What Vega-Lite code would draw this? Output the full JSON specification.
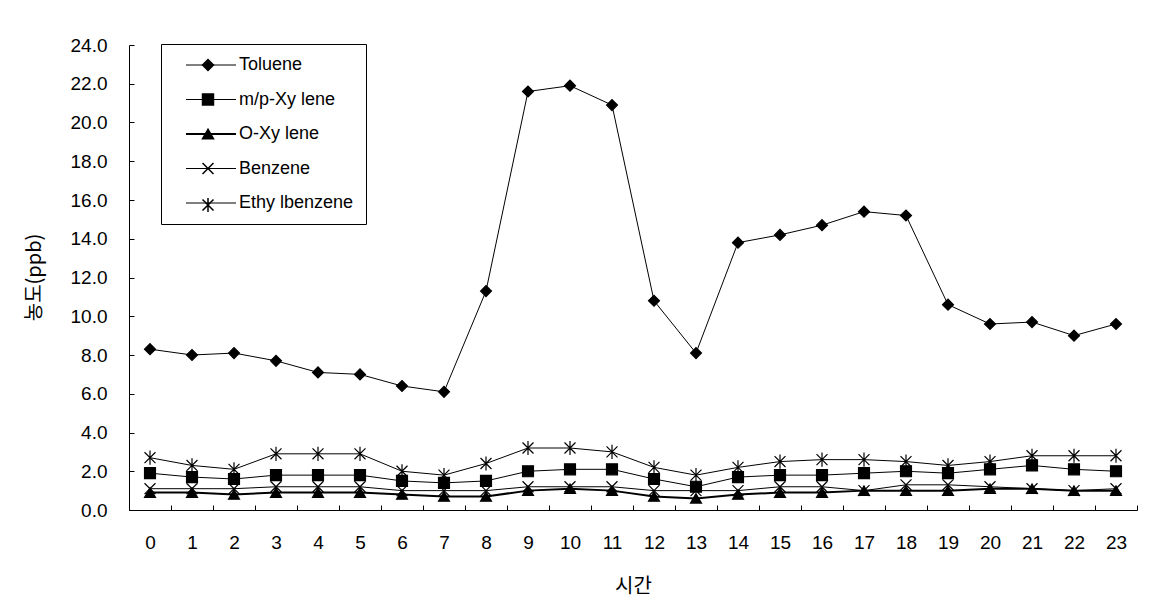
{
  "$schema": "https://vega.github.io/schema/vega-lite/v6.json",
  "width": 1008,
  "height": 465,
  "autosize": {"type": "none"},
  "padding": {"left": 129, "top": 45, "right": 23, "bottom": 96},
  "background": "white",
  "config": {
    "view": {"stroke": null},
    "axis": {
      "domainColor": "black", "tickColor": "black", "labelColor": "black", "titleColor": "black",
      "labelFont": "Liberation Sans", "labelFontSize": 19,
      "titleFont": "Noto Sans CJK KR", "titleFontSize": 20, "titleFontWeight": "normal",
      "grid": false, "domainWidth": 1, "tickWidth": 1
    },
    "legend": {"labelFont": "Liberation Sans", "labelFontSize": 18, "labelColor": "black"}
  },
  "data": {"values": [
    {"hour": 0, "series": "Toluene", "value": 8.3}, {"hour": 1, "series": "Toluene", "value": 8.0}, {"hour": 2, "series": "Toluene", "value": 8.1}, {"hour": 3, "series": "Toluene", "value": 7.7}, {"hour": 4, "series": "Toluene", "value": 7.1}, {"hour": 5, "series": "Toluene", "value": 7.0}, {"hour": 6, "series": "Toluene", "value": 6.4}, {"hour": 7, "series": "Toluene", "value": 6.1}, {"hour": 8, "series": "Toluene", "value": 11.3}, {"hour": 9, "series": "Toluene", "value": 21.6}, {"hour": 10, "series": "Toluene", "value": 21.9}, {"hour": 11, "series": "Toluene", "value": 20.9}, {"hour": 12, "series": "Toluene", "value": 10.8}, {"hour": 13, "series": "Toluene", "value": 8.1}, {"hour": 14, "series": "Toluene", "value": 13.8}, {"hour": 15, "series": "Toluene", "value": 14.2}, {"hour": 16, "series": "Toluene", "value": 14.7}, {"hour": 17, "series": "Toluene", "value": 15.4}, {"hour": 18, "series": "Toluene", "value": 15.2}, {"hour": 19, "series": "Toluene", "value": 10.6}, {"hour": 20, "series": "Toluene", "value": 9.6}, {"hour": 21, "series": "Toluene", "value": 9.7}, {"hour": 22, "series": "Toluene", "value": 9.0}, {"hour": 23, "series": "Toluene", "value": 9.6},
    {"hour": 0, "series": "m/p-Xy lene", "value": 1.9}, {"hour": 1, "series": "m/p-Xy lene", "value": 1.7}, {"hour": 2, "series": "m/p-Xy lene", "value": 1.6}, {"hour": 3, "series": "m/p-Xy lene", "value": 1.8}, {"hour": 4, "series": "m/p-Xy lene", "value": 1.8}, {"hour": 5, "series": "m/p-Xy lene", "value": 1.8}, {"hour": 6, "series": "m/p-Xy lene", "value": 1.5}, {"hour": 7, "series": "m/p-Xy lene", "value": 1.4}, {"hour": 8, "series": "m/p-Xy lene", "value": 1.5}, {"hour": 9, "series": "m/p-Xy lene", "value": 2.0}, {"hour": 10, "series": "m/p-Xy lene", "value": 2.1}, {"hour": 11, "series": "m/p-Xy lene", "value": 2.1}, {"hour": 12, "series": "m/p-Xy lene", "value": 1.6}, {"hour": 13, "series": "m/p-Xy lene", "value": 1.2}, {"hour": 14, "series": "m/p-Xy lene", "value": 1.7}, {"hour": 15, "series": "m/p-Xy lene", "value": 1.8}, {"hour": 16, "series": "m/p-Xy lene", "value": 1.8}, {"hour": 17, "series": "m/p-Xy lene", "value": 1.9}, {"hour": 18, "series": "m/p-Xy lene", "value": 2.0}, {"hour": 19, "series": "m/p-Xy lene", "value": 1.9}, {"hour": 20, "series": "m/p-Xy lene", "value": 2.1}, {"hour": 21, "series": "m/p-Xy lene", "value": 2.3}, {"hour": 22, "series": "m/p-Xy lene", "value": 2.1}, {"hour": 23, "series": "m/p-Xy lene", "value": 2.0},
    {"hour": 0, "series": "O-Xy lene", "value": 0.9}, {"hour": 1, "series": "O-Xy lene", "value": 0.9}, {"hour": 2, "series": "O-Xy lene", "value": 0.8}, {"hour": 3, "series": "O-Xy lene", "value": 0.9}, {"hour": 4, "series": "O-Xy lene", "value": 0.9}, {"hour": 5, "series": "O-Xy lene", "value": 0.9}, {"hour": 6, "series": "O-Xy lene", "value": 0.8}, {"hour": 7, "series": "O-Xy lene", "value": 0.7}, {"hour": 8, "series": "O-Xy lene", "value": 0.7}, {"hour": 9, "series": "O-Xy lene", "value": 1.0}, {"hour": 10, "series": "O-Xy lene", "value": 1.1}, {"hour": 11, "series": "O-Xy lene", "value": 1.0}, {"hour": 12, "series": "O-Xy lene", "value": 0.7}, {"hour": 13, "series": "O-Xy lene", "value": 0.6}, {"hour": 14, "series": "O-Xy lene", "value": 0.8}, {"hour": 15, "series": "O-Xy lene", "value": 0.9}, {"hour": 16, "series": "O-Xy lene", "value": 0.9}, {"hour": 17, "series": "O-Xy lene", "value": 1.0}, {"hour": 18, "series": "O-Xy lene", "value": 1.0}, {"hour": 19, "series": "O-Xy lene", "value": 1.0}, {"hour": 20, "series": "O-Xy lene", "value": 1.1}, {"hour": 21, "series": "O-Xy lene", "value": 1.1}, {"hour": 22, "series": "O-Xy lene", "value": 1.0}, {"hour": 23, "series": "O-Xy lene", "value": 1.0},
    {"hour": 0, "series": "Benzene", "value": 1.1}, {"hour": 1, "series": "Benzene", "value": 1.1}, {"hour": 2, "series": "Benzene", "value": 1.1}, {"hour": 3, "series": "Benzene", "value": 1.2}, {"hour": 4, "series": "Benzene", "value": 1.2}, {"hour": 5, "series": "Benzene", "value": 1.2}, {"hour": 6, "series": "Benzene", "value": 1.0}, {"hour": 7, "series": "Benzene", "value": 1.0}, {"hour": 8, "series": "Benzene", "value": 1.0}, {"hour": 9, "series": "Benzene", "value": 1.2}, {"hour": 10, "series": "Benzene", "value": 1.2}, {"hour": 11, "series": "Benzene", "value": 1.2}, {"hour": 12, "series": "Benzene", "value": 1.0}, {"hour": 13, "series": "Benzene", "value": 1.0}, {"hour": 14, "series": "Benzene", "value": 1.0}, {"hour": 15, "series": "Benzene", "value": 1.2}, {"hour": 16, "series": "Benzene", "value": 1.2}, {"hour": 17, "series": "Benzene", "value": 1.0}, {"hour": 18, "series": "Benzene", "value": 1.3}, {"hour": 19, "series": "Benzene", "value": 1.3}, {"hour": 20, "series": "Benzene", "value": 1.2}, {"hour": 21, "series": "Benzene", "value": 1.1}, {"hour": 22, "series": "Benzene", "value": 1.0}, {"hour": 23, "series": "Benzene", "value": 1.1},
    {"hour": 0, "series": "Ethy lbenzene", "value": 2.7}, {"hour": 1, "series": "Ethy lbenzene", "value": 2.3}, {"hour": 2, "series": "Ethy lbenzene", "value": 2.1}, {"hour": 3, "series": "Ethy lbenzene", "value": 2.9}, {"hour": 4, "series": "Ethy lbenzene", "value": 2.9}, {"hour": 5, "series": "Ethy lbenzene", "value": 2.9}, {"hour": 6, "series": "Ethy lbenzene", "value": 2.0}, {"hour": 7, "series": "Ethy lbenzene", "value": 1.8}, {"hour": 8, "series": "Ethy lbenzene", "value": 2.4}, {"hour": 9, "series": "Ethy lbenzene", "value": 3.2}, {"hour": 10, "series": "Ethy lbenzene", "value": 3.2}, {"hour": 11, "series": "Ethy lbenzene", "value": 3.0}, {"hour": 12, "series": "Ethy lbenzene", "value": 2.2}, {"hour": 13, "series": "Ethy lbenzene", "value": 1.8}, {"hour": 14, "series": "Ethy lbenzene", "value": 2.2}, {"hour": 15, "series": "Ethy lbenzene", "value": 2.5}, {"hour": 16, "series": "Ethy lbenzene", "value": 2.6}, {"hour": 17, "series": "Ethy lbenzene", "value": 2.6}, {"hour": 18, "series": "Ethy lbenzene", "value": 2.5}, {"hour": 19, "series": "Ethy lbenzene", "value": 2.3}, {"hour": 20, "series": "Ethy lbenzene", "value": 2.5}, {"hour": 21, "series": "Ethy lbenzene", "value": 2.8}, {"hour": 22, "series": "Ethy lbenzene", "value": 2.8}, {"hour": 23, "series": "Ethy lbenzene", "value": 2.8}
  ]},
  "encoding": {
    "x": {
      "field": "hour", "type": "ordinal",
      "scale": {"type": "band", "paddingInner": 0, "paddingOuter": 0},
      "axis": {"title": "시간", "labelAngle": 0, "tickBand": "extent", "tickSize": -5, "labelPadding": 28, "titleY": 76, "titleBaseline": "middle"}
    },
    "y": {
      "field": "value", "type": "quantitative",
      "scale": {"domain": [0, 24], "nice": false},
      "axis": {"title": "농도(ppb)", "values": [0,2,4,6,8,10,12,14,16,18,20,22,24], "format": ".1f", "tickSize": -5, "labelPadding": 27, "titleX": -95, "titleY": 232, "titleAngle": -90, "titleAlign": "center", "titleBaseline": "middle"}
    }
  },
  "layer": [
    {
      "mark": {"type": "line"},
      "encoding": {
        "color": {"field": "series", "type": "nominal",
          "scale": {"domain": ["Toluene", "m/p-Xy lene", "O-Xy lene", "Benzene", "Ethy lbenzene"], "range": ["black", "black", "black", "black", "black"]},
          "legend": {"title": null, "orient": "none", "legendX": 32, "legendY": -1, "symbolType": "M0.8,0L10.8,0", "symbolSize": 100, "symbolStrokeWidth": 1, "padding": 12, "labelOffset": 48, "rowPadding": 16.5, "strokeColor": "black", "fillColor": "white",
            "encode": {"symbols": {"update": {"strokeWidth": {"signal": "datum.value === 'O-Xy lene' ? 2 : 1"}}}}}
        },
        "strokeWidth": {"condition": {"test": "datum.series === 'O-Xy lene'", "value": 2}, "value": 1}
      }
    },
    {
      "mark": {"type": "point", "filled": true, "fill": "black", "stroke": "black", "strokeWidth": 1.2, "opacity": 1, "size": 120},
      "encoding": {
        "shape": {"field": "series", "type": "nominal",
          "sort": ["Toluene", "m/p-Xy lene", "O-Xy lene", "Benzene", "Ethy lbenzene"],
          "scale": {"range": ["diamond", "square", "triangle-up", "M-1,-1L1,1M-1,1L1,-1", "M-1,-1L1,1M-1,1L1,-1M0,-1.3L0,1.3"]},
          "legend": {"title": null, "orient": "none", "legendX": 70, "legendY": 11, "symbolSize": 120, "padding": 0, "labelExpr": "''", "labelFontSize": 18, "rowPadding": 16.5,
            "encode": {"symbols": {"update": {"fill": {"value": "black"}, "stroke": {"value": "black"}, "strokeWidth": {"value": 1.2}, "opacity": {"value": 1}}}}}
        }
      }
    }
  ]
}
